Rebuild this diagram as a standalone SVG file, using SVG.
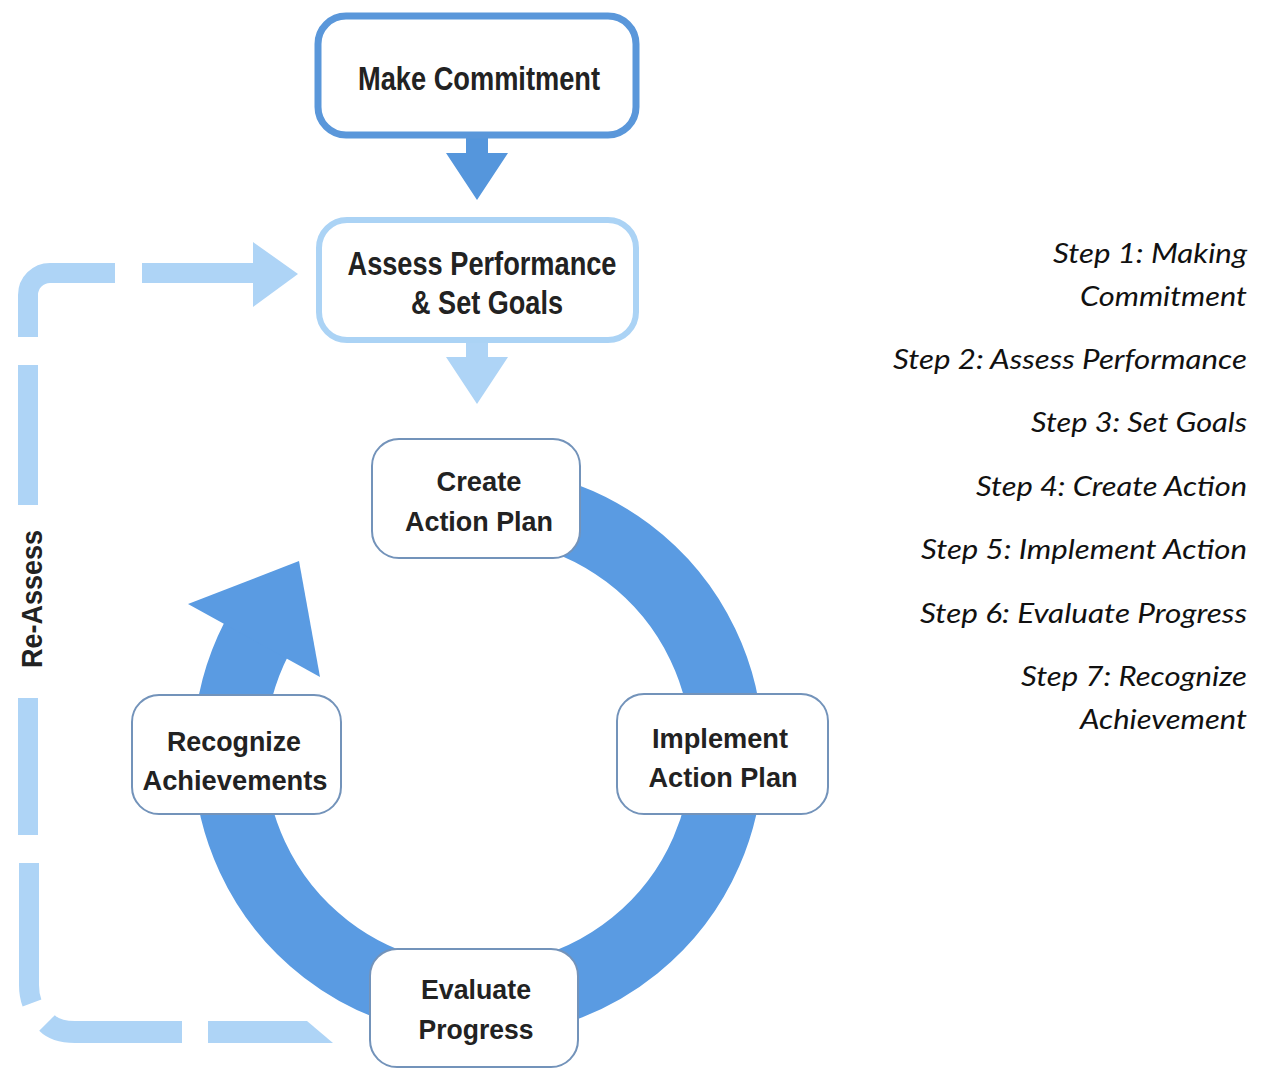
<svg xmlns="http://www.w3.org/2000/svg" width="1262" height="1070" viewBox="0 0 1262 1070">
  <style>
    .lbl { font-family: "Liberation Sans", Arial, sans-serif; font-weight: 700; fill: #222; text-anchor: middle; }
    .top { font-size: 33px; }
    .ring-lbl { font-size: 28px; }
    .step { font-family: Lato, "Open Sans", sans-serif; font-style: italic; font-size: 27px; fill: #111; text-anchor: end; }
    .ring-box { fill: #fff; stroke: #7393ba; stroke-width: 2; }
    .loop { fill: none; stroke: #aed4f6; stroke-width: 20; stroke-linecap: butt; }
  </style>

  <rect width="1262" height="1070" fill="#fff"/>

  <!-- connectors -->
  <g id="connectors">
    <!-- Make Commitment -> Assess -->
    <polygon fill="#5596dc" points="466,136 488,136 488,153 508,153 477,200 446,153 466,153"/>
    <!-- Assess -> cycle -->
    <polygon fill="#aed4f6" points="466,342 488,342 488,357 508,357 477,404 446,357 466,357"/>

    <!-- main cycle ring with arrowhead -->
    <path d="M 413.6 511.5 A 249 249 0 1 1 256.5 638.6" fill="none" stroke="#5a9be2" stroke-width="72"/>
    <polygon fill="#5a9be2" points="188,604 299,561 320,677"/>

    <!-- re-assess dashed loop -->
    <g id="reassess-loop">
      <path class="loop" d="M 115 273 H 50 A 22 22 0 0 0 28 295 V 337"/>
      <path class="loop" d="M 142 273 H 254"/>
      <polygon fill="#aed4f6" points="253,242 298,274 253,307"/>
      <path class="loop" d="M 28 365 V 505"/>
      <path class="loop" d="M 28 698 V 835"/>
      <path class="loop" d="M 29 863 V 985 Q 29 995 32 1003"/>
      <path class="loop" style="stroke-width:22" d="M 47 1023 Q 56 1032 75 1032 H 182"/>
      <polygon fill="#aed4f6" points="208,1021 307,1021 333,1043 208,1043"/>
      <text class="lbl" font-size="30" textLength="138" lengthAdjust="spacingAndGlyphs" transform="translate(42 599) rotate(-90)">Re-Assess</text>
    </g>
  </g>

  <!-- nodes -->
  <g id="make-commitment">
    <rect x="318" y="16" width="318" height="119" rx="28" fill="#fff" stroke="#5a97da" stroke-width="7"/>
    <text class="lbl top" x="479" y="90" textLength="242" lengthAdjust="spacingAndGlyphs">Make Commitment</text>
  </g>

  <g id="assess-performance">
    <rect x="319" y="220" width="317" height="120" rx="28" fill="#fff" stroke="#abd3f5" stroke-width="6"/>
    <text class="lbl top" x="482" y="275" textLength="269" lengthAdjust="spacingAndGlyphs">Assess Performance</text>
    <text class="lbl top" x="487" y="314" textLength="152" lengthAdjust="spacingAndGlyphs">&amp; Set Goals</text>
  </g>

  <g id="create-action-plan">
    <rect class="ring-box" x="372" y="439" width="208" height="119" rx="27"/>
    <text class="lbl ring-lbl" x="479" y="491" textLength="85" lengthAdjust="spacingAndGlyphs">Create</text>
    <text class="lbl ring-lbl" x="479" y="531" textLength="148" lengthAdjust="spacingAndGlyphs">Action Plan</text>
  </g>

  <g id="implement-action-plan">
    <rect class="ring-box" x="617" y="694" width="211" height="120" rx="27"/>
    <text class="lbl ring-lbl" x="720" y="748" textLength="136" lengthAdjust="spacingAndGlyphs">Implement</text>
    <text class="lbl ring-lbl" x="723" y="787" textLength="149" lengthAdjust="spacingAndGlyphs">Action Plan</text>
  </g>

  <g id="evaluate-progress">
    <rect class="ring-box" x="370" y="949" width="208" height="118" rx="27"/>
    <text class="lbl ring-lbl" x="476" y="999" textLength="110" lengthAdjust="spacingAndGlyphs">Evaluate</text>
    <text class="lbl ring-lbl" x="476" y="1039" textLength="115" lengthAdjust="spacingAndGlyphs">Progress</text>
  </g>

  <g id="recognize-achievements">
    <rect class="ring-box" x="132" y="695" width="209" height="119" rx="27"/>
    <text class="lbl ring-lbl" x="234" y="751" textLength="134" lengthAdjust="spacingAndGlyphs">Recognize</text>
    <text class="lbl ring-lbl" x="235" y="790" textLength="185" lengthAdjust="spacingAndGlyphs">Achievements</text>
  </g>

  <!-- step list -->
  <g id="steps">
    <text class="step" x="1247" y="263" textLength="194" lengthAdjust="spacingAndGlyphs">Step 1: Making</text>
    <text class="step" x="1247" y="306" textLength="167" lengthAdjust="spacingAndGlyphs">Commitment</text>
    <text class="step" x="1247" y="369" textLength="354" lengthAdjust="spacingAndGlyphs">Step 2: Assess Performance</text>
    <text class="step" x="1247" y="432" textLength="216" lengthAdjust="spacingAndGlyphs">Step 3: Set Goals</text>
    <text class="step" x="1247" y="496" textLength="271" lengthAdjust="spacingAndGlyphs">Step 4: Create Action</text>
    <text class="step" x="1247" y="559" textLength="326" lengthAdjust="spacingAndGlyphs">Step 5: Implement Action</text>
    <text class="step" x="1247" y="623" textLength="327" lengthAdjust="spacingAndGlyphs">Step 6: Evaluate Progress</text>
    <text class="step" x="1247" y="686" textLength="226" lengthAdjust="spacingAndGlyphs">Step 7: Recognize</text>
    <text class="step" x="1247" y="729" textLength="167" lengthAdjust="spacingAndGlyphs">Achievement</text>
  </g>
</svg>
